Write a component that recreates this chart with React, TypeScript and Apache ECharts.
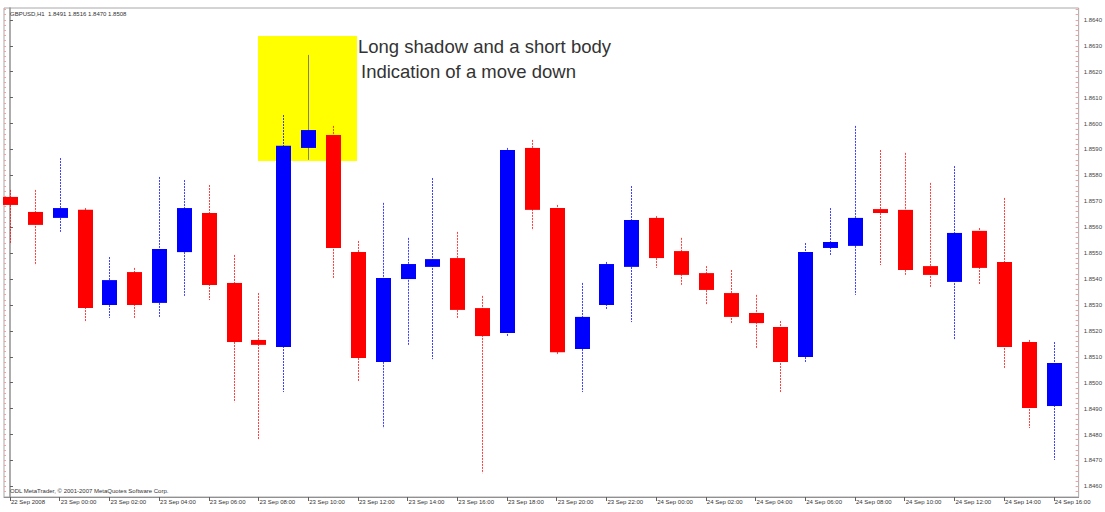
import React, { useEffect, useRef } from "react";
import * as echarts from "echarts";

// H1 candles, 22 Sep 22:00 .. 24 Sep 16:00 (GBPUSD)
const times = [
  "22 Sep 22:00", "22 Sep 23:00", "23 Sep 00:00", "23 Sep 01:00", "23 Sep 02:00", "23 Sep 03:00",
  "23 Sep 04:00", "23 Sep 05:00", "23 Sep 06:00", "23 Sep 07:00", "23 Sep 08:00", "23 Sep 09:00",
  "23 Sep 10:00", "23 Sep 11:00", "23 Sep 12:00", "23 Sep 13:00", "23 Sep 14:00", "23 Sep 15:00",
  "23 Sep 16:00", "23 Sep 17:00", "23 Sep 18:00", "23 Sep 19:00", "23 Sep 20:00", "23 Sep 21:00",
  "23 Sep 22:00", "23 Sep 23:00", "24 Sep 00:00", "24 Sep 01:00", "24 Sep 02:00", "24 Sep 03:00",
  "24 Sep 04:00", "24 Sep 05:00", "24 Sep 06:00", "24 Sep 07:00", "24 Sep 08:00", "24 Sep 09:00",
  "24 Sep 10:00", "24 Sep 11:00", "24 Sep 12:00", "24 Sep 13:00", "24 Sep 14:00", "24 Sep 15:00",
  "24 Sep 16:00",
];

const opens = [
  1.85717, 1.85659, 1.85636, 1.85667, 1.853, 1.85427, 1.85308, 1.85504, 1.85655, 1.85385, 1.85165,
  1.85138, 1.85906, 1.85956, 1.85504, 1.8508, 1.854, 1.85447, 1.85481, 1.85288, 1.85192, 1.85906,
  1.85674, 1.8513, 1.853, 1.85447, 1.85636, 1.85508, 1.85423, 1.85346, 1.85269, 1.85215, 1.85099,
  1.8552, 1.85528, 1.8567, 1.85667, 1.8545, 1.85389, 1.85586, 1.85466, 1.85157, 1.8491,
];
const closes = [
  1.85686, 1.85609, 1.85674, 1.85288, 1.85396, 1.853, 1.85516, 1.85674, 1.85377, 1.85157, 1.85146,
  1.85914, 1.85975, 1.8552, 1.85095, 1.85404, 1.85458, 1.85477, 1.85281, 1.8518, 1.85898, 1.85667,
  1.85118, 1.85254, 1.85458, 1.85628, 1.85481, 1.85416, 1.85358, 1.85254, 1.8523, 1.8508, 1.85504,
  1.85543, 1.85636, 1.85655, 1.85435, 1.85416, 1.85578, 1.85443, 1.85138, 1.84902, 1.85076,
];
const highs = [
  1.85744, 1.85744, 1.85867, 1.85674, 1.85485, 1.85443, 1.85794, 1.85782, 1.85763, 1.85493, 1.85346,
  1.86033, 1.86265, 1.85991, 1.85547, 1.85694, 1.85559, 1.8579, 1.85582, 1.85335, 1.85906, 1.85937,
  1.85686, 1.85385, 1.85466, 1.85759, 1.85643, 1.85559, 1.8545, 1.85435, 1.85339, 1.85238, 1.85539,
  1.85674, 1.85991, 1.85898, 1.85887, 1.85771, 1.85836, 1.85597, 1.85713, 1.85165, 1.85157,
];
const lows = [
  1.85539, 1.85454, 1.85582, 1.85234, 1.8525, 1.8525, 1.8525, 1.85335, 1.85319, 1.84925, 1.84779,
  1.84964, 1.8586, 1.85404, 1.85003, 1.84825, 1.85146, 1.85091, 1.8525, 1.84651, 1.8518, 1.85589,
  1.85107, 1.84964, 1.85281, 1.85234, 1.85443, 1.85377, 1.853, 1.8523, 1.85134, 1.84964, 1.8508,
  1.85493, 1.85339, 1.85454, 1.85416, 1.85366, 1.85165, 1.85377, 1.85057, 1.84825, 1.84702,
];

// bottom time-axis labels (every second bar)
const xLabels = [
  "22 Sep 2008", "23 Sep 00:00", "23 Sep 02:00", "23 Sep 04:00", "23 Sep 06:00", "23 Sep 08:00",
  "23 Sep 10:00", "23 Sep 12:00", "23 Sep 14:00", "23 Sep 16:00", "23 Sep 18:00", "23 Sep 20:00",
  "23 Sep 22:00", "24 Sep 00:00", "24 Sep 02:00", "24 Sep 04:00", "24 Sep 06:00", "24 Sep 08:00",
  "24 Sep 10:00", "24 Sep 12:00", "24 Sep 14:00", "24 Sep 16:00",
];
const xLabelBars = [0, 2, 4, 6, 8, 10, 12, 14, 16, 18, 20, 22, 24, 26, 28, 30, 32, 34, 36, 38, 40, 42];

// right price-axis labels
const yTicks = [
  1.846, 1.847, 1.848, 1.849, 1.85, 1.851, 1.852, 1.853, 1.854, 1.855, 1.856, 1.857, 1.858, 1.859,
  1.86, 1.861, 1.862, 1.863, 1.864,
];

const titleText = "GBPUSD,H1  1.8491 1.8516 1.8470 1.8508";
const copyrightText = "ODL MetaTrader, \u00a9 2001-2007 MetaQuotes Software Corp.";
const note1 = "Long shadow and a short body";
const note2 = "Indication of a move down";

export default function App() {
  const ref = useRef<HTMLDivElement>(null);
  useEffect(() => {
    if (!ref.current) return;
    const chart = echarts.init(ref.current, null, { renderer: "svg" });
    const data = times.map((_, i) => [i, opens[i], closes[i], lows[i], highs[i]]);
    const minorTicks: number[] = [];
    for (let k = 0; k <= 95; k++) minorTicks.push(+(1.8458 + k * 0.0002).toFixed(4));
    const yMin = 1.84559;
    const yMax = 1.86446;
    const font = "Liberation Sans, Arial, sans-serif";
    chart.setOption({
      animation: false,
      backgroundColor: "#ffffff",
      grid: {
        left: 4,
        right: 22,
        top: 8,
        bottom: 15,
        show: true,
        borderColor: "#a8a8a8",
        borderWidth: 1,
      },
      xAxis: {
        type: "value",
        min: -0.24,
        max: 43.0,
        position: "bottom",
        splitLine: { show: false },
        axisLine: { show: true, lineStyle: { color: "#909090" } },
        axisTick: {
          show: true,
          customValues: xLabelBars,
          length: 4,
          lineStyle: { color: "#606060" },
        },
        axisLabel: {
          customValues: xLabelBars,
          formatter: (v: number) => xLabels[xLabelBars.indexOf(Math.round(v))] ?? "",
          align: "left",
          fontSize: 6,
          margin: 2,
          color: "#333",
          fontFamily: font,
          padding: [0, 0, 0, 1],
        },
      },
      yAxis: [
        {
          type: "value",
          position: "right",
          min: yMin,
          max: yMax,
          splitLine: { show: false },
          axisLine: { show: true, lineStyle: { color: "#909090", width: 1.5 } },
          axisTick: {
            show: true,
            customValues: yTicks,
            length: 3,
            lineStyle: { color: "#606060" },
          },
          axisLabel: {
            customValues: yTicks,
            formatter: (v: number) => v.toFixed(4),
            fontSize: 6,
            margin: 5,
            color: "#444",
            fontFamily: font,
          },
        },
        {
          type: "value",
          position: "right",
          min: yMin,
          max: yMax,
          splitLine: { show: false },
          axisLine: { show: false },
          axisTick: {
            show: true,
            inside: true,
            customValues: minorTicks,
            length: 3,
            lineStyle: { color: "#f4a0a0" },
          },
          axisLabel: { show: false },
        },
        {
          type: "value",
          position: "left",
          min: yMin,
          max: yMax,
          splitLine: { show: false },
          axisLine: { show: false },
          axisTick: {
            show: true,
            inside: true,
            customValues: minorTicks,
            length: 2,
            lineStyle: { color: "#f4a0a0" },
          },
          axisLabel: { show: false },
        },
      ],
      graphic: [
        {
          type: "rect",
          z: 0,
          shape: { x: 258, y: 36, width: 99, height: 125 },
          style: { fill: "#ffff00" },
        },
        {
          type: "text",
          z: 10,
          x: 358,
          y: 37,
          style: { text: note1, fontSize: 18.5, fill: "#333333", fontFamily: font },
        },
        {
          type: "text",
          z: 10,
          x: 361,
          y: 62,
          style: { text: note2, fontSize: 18.5, fill: "#333333", fontFamily: font },
        },
        {
          type: "text",
          z: 10,
          x: 10,
          y: 11,
          style: { text: titleText, fontSize: 6, fill: "#333333", fontFamily: font },
        },
        {
          type: "text",
          z: 10,
          x: 10,
          y: 488,
          style: { text: copyrightText, fontSize: 6, fill: "#333333", fontFamily: font },
        },
      ],
      series: [
        {
          type: "custom",
          z: 5,
          data,
          encode: { x: 0, y: [1, 2, 3, 4] },
          renderItem: (params: any, api: any) => {
            const x = api.value(0);
            const o = api.value(1);
            const c = api.value(2);
            const l = api.value(3);
            const h = api.value(4);
            const pO = api.coord([x, o]);
            const pC = api.coord([x, c]);
            const pL = api.coord([x, l]);
            const pH = api.coord([x, h]);
            const bull = c > o;
            const color = bull ? "#0000ff" : "#ff0000";
            const special = params.dataIndex === 12;
            const w = 15;
            const top = Math.min(pO[1], pC[1]);
            const ht = Math.max(2, Math.abs(pO[1] - pC[1]));
            const cx = Math.round(pO[0]) + 0.5;
            return {
              type: "group",
              children: [
                {
                  type: "line",
                  shape: { x1: cx, y1: pH[1], x2: cx, y2: pL[1] },
                  style: {
                    stroke: special ? "#808080" : color,
                    lineWidth: 1,
                    lineDash: special ? null : [2, 1],
                    opacity: special ? 1 : 0.75,
                  },
                },
                {
                  type: "rect",
                  shape: { x: cx - w / 2, y: top, width: w, height: ht },
                  style: { fill: color },
                },
              ],
            };
          },
        },
      ],
    });
    return () => chart.dispose();
  }, []);
  return (
    <div
      ref={ref}
      style={{ position: "absolute", left: 0, top: 0, width: 1105, height: 512, background: "#fff" }}
    />
  );
}
